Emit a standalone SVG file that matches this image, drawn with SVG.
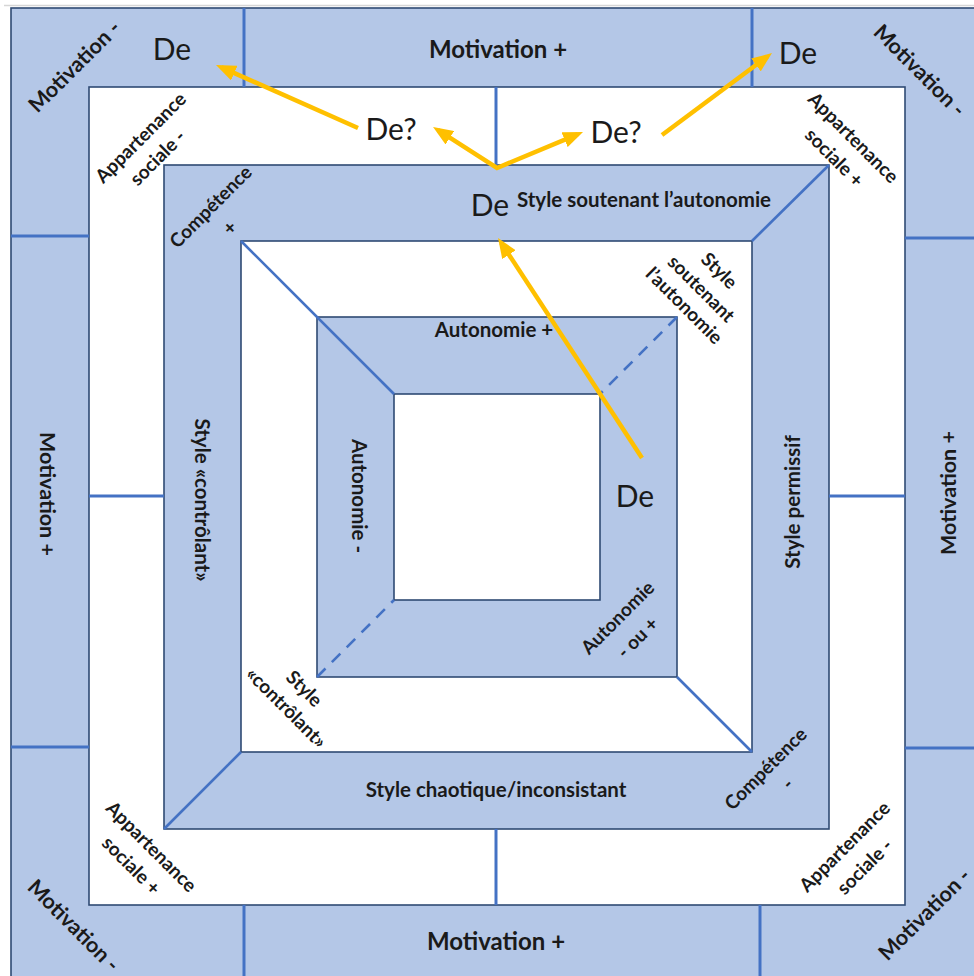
<svg xmlns="http://www.w3.org/2000/svg" width="974" height="976" viewBox="0 0 974 976">
  <style>
    .band { fill: #B4C7E7; stroke: #2F4A73; stroke-width: 1.6; }
    .hole { fill: #FFFFFF; stroke: #2F4A73; stroke-width: 1.6; }
    .div { stroke: #4472C4; stroke-width: 3; fill: none; }
    .diag { stroke: #4472C4; stroke-width: 2.6; fill: none; }
    .dash { stroke: #4472C4; stroke-width: 2.6; fill: none; stroke-dasharray: 12 9; }
    .arrow { stroke: #FFC000; stroke-width: 4.5; fill: none; marker-end: url(#ah); }
    text { font-family: Lato, "Open Sans", "Liberation Sans", sans-serif; fill: #1A1A1A; }
    .mot { font-size: 24px; font-weight: bold; text-anchor: middle; }
    .motd { font-size: 21.5px; font-weight: bold; text-anchor: middle; dominant-baseline: central; }
    .lab { font-size: 20.5px; font-weight: bold; text-anchor: middle; }
    .labv { font-size: 20.5px; font-weight: bold; text-anchor: middle; dominant-baseline: central; }
    .labd { font-size: 19px; font-weight: bold; text-anchor: middle; dominant-baseline: central; }
    .de { font-size: 30px; text-anchor: middle; }
  </style>
  <defs>
    <marker id="ah" viewBox="0 0 20 16" markerWidth="20" markerHeight="16" refX="14" refY="8" orient="auto-start-reverse" markerUnits="userSpaceOnUse">
      <path d="M0,0 L20,8 L0,16 Z" fill="#FFC000"/>
    </marker>
  </defs>

  <rect x="0" y="0" width="974" height="976" fill="#FFFFFF"/>
  <line x1="4" y1="5.5" x2="974" y2="5.5" stroke="#D6D6D6" stroke-width="1.5"/>

  <!-- nested frames, outer to inner -->
  <g id="frame-motivation">
    <rect class="band" x="11" y="8" width="980" height="990"/>
  </g>
  <g id="frame-appartenance">
    <rect class="hole" x="89" y="87" width="816" height="818"/>
  </g>
  <g id="frame-competence">
    <rect class="band" x="164" y="165" width="665" height="664"/>
  </g>
  <g id="frame-style">
    <rect class="hole" x="241" y="241" width="511" height="511"/>
  </g>
  <g id="frame-autonomie">
    <rect class="band" x="317" y="317" width="360" height="360"/>
  </g>
  <g id="frame-centre">
    <rect class="hole" x="394" y="394" width="206" height="206"/>
  </g>

  <!-- dividers and diagonals -->
  <g id="connectors">
    <line class="div" x1="244" y1="8" x2="244" y2="87"/>
    <line class="div" x1="752" y1="8" x2="752" y2="87"/>
    <line class="div" x1="496" y1="87" x2="496" y2="165"/>
    <line class="div" x1="11" y1="236" x2="89" y2="236"/>
    <line class="div" x1="11" y1="747" x2="89" y2="747"/>
    <line class="div" x1="89" y1="496" x2="164" y2="496"/>
    <line class="div" x1="905" y1="238" x2="974" y2="238"/>
    <line class="div" x1="905" y1="748" x2="974" y2="748"/>
    <line class="div" x1="829" y1="496" x2="905" y2="496"/>
    <line class="div" x1="244" y1="905" x2="244" y2="976"/>
    <line class="div" x1="760" y1="905" x2="760" y2="976"/>
    <line class="div" x1="496" y1="829" x2="496" y2="905"/>

    <line class="diag" x1="241" y1="241" x2="394" y2="394"/>
    <line class="diag" x1="829" y1="165" x2="752" y2="241"/>
    <line class="diag" x1="164" y1="829" x2="241" y2="752"/>
    <line class="diag" x1="677" y1="677" x2="752" y2="752"/>
    <line class="dash" x1="677" y1="317" x2="600" y2="394"/>
    <line class="dash" x1="317" y1="677" x2="394" y2="600"/>

    <line class="arrow" x1="642" y1="458" x2="501.3" y2="243"/>
    <path class="arrow" d="M438.1,130.2 L497,168 L577.5,134.3" stroke-linejoin="miter" style="marker-start: url(#ah);"/>
    <line class="arrow" x1="358" y1="128" x2="221.5" y2="67.4"/>
    <line class="arrow" x1="662" y1="135" x2="767.2" y2="56.6"/>
  </g>

  <!-- motivation labels -->
  <g id="labels-motivation">
    <text class="mot" x="498" y="58">Motivation +</text>
    <text class="mot" x="496" y="950">Motivation +</text>
    <text class="motd" transform="translate(48,494) rotate(90)">Motivation +</text>
    <text class="motd" transform="translate(948,493) rotate(-90)">Motivation +</text>
    <text class="motd" transform="translate(74,66) rotate(-45)">Motivation -</text>
    <text class="motd" transform="translate(920,70) rotate(45)">Motivation -</text>
    <text class="motd" transform="translate(74,925) rotate(45)">Motivation -</text>
    <text class="motd" transform="translate(924,914) rotate(-45)">Motivation -</text>
  </g>

  <!-- social belonging labels -->
  <g id="labels-appartenance">
    <text class="labd" transform="translate(140,137) rotate(-45)">Appartenance</text>
    <text class="labd" transform="translate(157,157) rotate(-45)">sociale -</text>
    <text class="labd" transform="translate(854,137) rotate(45)">Appartenance</text>
    <text class="labd" transform="translate(835,157) rotate(45)">sociale +</text>
    <text class="labd" transform="translate(152,846) rotate(45)">Appartenance</text>
    <text class="labd" transform="translate(132,865) rotate(45)">sociale +</text>
    <text class="labd" transform="translate(844,846) rotate(-45)">Appartenance</text>
    <text class="labd" transform="translate(864,866) rotate(-45)">sociale -</text>
  </g>

  <!-- competence band labels -->
  <g id="labels-competence">
    <text class="labd" transform="translate(210,206) rotate(-45)">Compétence</text>
    <text class="labd" transform="translate(229,227) rotate(-45)">+</text>
    <text class="labd" transform="translate(765,768) rotate(-45)">Compétence</text>
    <text class="labd" transform="translate(787,783) rotate(-45)">-</text>
    <text class="lab" x="644" y="207">Style soutenant l’autonomie</text>
    <text class="lab" x="496" y="797">Style chaotique/inconsistant</text>
    <text class="labv" transform="translate(203,500) rotate(90)">Style «contrôlant»</text>
    <text class="labv" transform="translate(792,502) rotate(-90)">Style permissif</text>
  </g>

  <!-- style corner labels -->
  <g id="labels-style">
    <text class="labd" transform="translate(720,270) rotate(45)">Style</text>
    <text class="labd" transform="translate(702,288) rotate(45)">soutenant</text>
    <text class="labd" transform="translate(685,305) rotate(45)">l’autonomie</text>
    <text class="labd" transform="translate(305,688) rotate(45)">Style</text>
    <text class="labd" transform="translate(287,707) rotate(45)">«contrôlant»</text>
  </g>

  <!-- autonomy labels -->
  <g id="labels-autonomie">
    <text class="lab" x="494" y="337">Autonomie +</text>
    <text class="labv" transform="translate(360,496) rotate(90)">Autonomie -</text>
    <text class="labd" transform="translate(617,617) rotate(-45)">Autonomie</text>
    <text class="labd" transform="translate(637,637) rotate(-45)">- ou +</text>
  </g>

  <!-- De markers -->
  <g id="labels-de">
    <text class="de" x="172" y="60">De</text>
    <text class="de" x="798" y="64">De</text>
    <text class="de" x="391" y="140">De?</text>
    <text class="de" x="616" y="143">De?</text>
    <text class="de" x="490" y="216">De</text>
    <text class="de" x="635" y="507">De</text>
  </g>
</svg>
